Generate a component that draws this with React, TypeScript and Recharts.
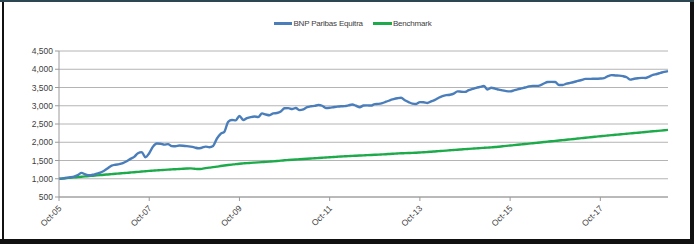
import React from "react";
import { LineChart, Line, XAxis, YAxis, CartesianGrid, Legend } from "recharts";

const MONTHS = ["Jan", "Feb", "Mar", "Apr", "May", "Jun", "Jul", "Aug", "Sep", "Oct", "Nov", "Dec"];
const START_MONTH = 9; // Oct
const START_YEAR = 2005;

const bnpParibasEquitra = [
  1000, 1010, 1025, 1040, 1060, 1100, 1160, 1120, 1095, 1110,
  1140, 1170, 1220, 1290, 1360, 1385, 1400, 1430, 1480, 1545,
  1600, 1700, 1730, 1590, 1700, 1880, 1965, 1960, 1935, 1950,
  1895, 1890, 1910, 1905, 1895, 1880, 1860, 1835, 1850, 1880,
  1865, 1900, 2100, 2230, 2290, 2560, 2610, 2600, 2720, 2610,
  2660, 2690, 2705, 2690, 2790, 2760, 2740, 2790, 2800, 2840,
  2930, 2935, 2910, 2940, 2880, 2900, 2960, 2985, 2995, 3020,
  3000, 2940, 2945, 2960, 2975, 2985, 2990, 3010, 3035, 3000,
  2960, 3005, 3010, 3005, 3045, 3050, 3070, 3110, 3150, 3180,
  3205, 3220, 3150, 3100, 3060, 3050, 3100, 3095, 3075, 3120,
  3160, 3220, 3265, 3290, 3300, 3330, 3395, 3385, 3380, 3430,
  3460, 3490, 3515, 3540, 3445, 3495, 3470, 3440, 3420, 3400,
  3395, 3420, 3450, 3475, 3500, 3530, 3545, 3545, 3560, 3610,
  3650, 3655, 3650, 3570, 3570, 3605, 3625, 3650, 3680, 3705,
  3735, 3735, 3740, 3740, 3745, 3755, 3810, 3840, 3830, 3825,
  3810, 3780, 3715, 3740, 3755, 3765, 3760, 3800, 3845, 3870,
  3900, 3930, 3950,
];

const benchmark = [
  1000, 1008, 1019, 1027, 1038, 1046, 1055, 1064, 1072, 1083,
  1091, 1100, 1110, 1118, 1127, 1136, 1144, 1153, 1162, 1171,
  1180, 1188, 1197, 1206, 1215, 1222, 1230, 1236, 1243, 1250,
  1256, 1262, 1268, 1275, 1280, 1283, 1275, 1266, 1272, 1290,
  1305, 1318, 1332, 1348, 1362, 1375, 1388, 1401, 1412, 1420,
  1428, 1435, 1442, 1449, 1456, 1463, 1470, 1477, 1486, 1496,
  1505, 1512, 1519, 1526, 1533, 1540, 1547, 1554, 1561, 1568,
  1575, 1582, 1590, 1596, 1603, 1610, 1615, 1620, 1626, 1631,
  1636, 1641, 1646, 1651, 1656, 1661, 1667, 1673, 1680, 1686,
  1692, 1697, 1701, 1705, 1709, 1714, 1720, 1726, 1733, 1740,
  1748, 1756, 1764, 1772, 1780, 1788, 1796, 1803, 1811, 1818,
  1825, 1832, 1840, 1847, 1854, 1861, 1868, 1878, 1889, 1900,
  1910, 1920, 1930, 1941, 1952, 1962, 1973, 1984, 1995, 2005,
  2016, 2027, 2037, 2048, 2058, 2069, 2079, 2090, 2101, 2112,
  2123, 2134, 2145, 2155, 2166, 2175, 2185, 2195, 2204, 2214,
  2223, 2233, 2243, 2252, 2262, 2271, 2280, 2290, 2300, 2309,
  2318, 2328, 2338,
];

const yTicks = [500, 1000, 1500, 2000, 2500, 3000, 3500, 4000, 4500];

const monthLabel = (i: number) => {
  const m = (START_MONTH + i) % 12;
  const y = START_YEAR + Math.floor((START_MONTH + i) / 12);
  return `${MONTHS[m]}-${String(y % 100).padStart(2, "0")}`;
};

const data = bnpParibasEquitra.map((v, i) => ({
  month: monthLabel(i),
  bnp: v,
  bench: benchmark[i],
}));

const BLUE = "#4a7ebb";
const GREEN = "#1daa4a";
const FONT = "'Liberation Sans', Arial, sans-serif";

const XTick = (props: any) => {
  const { x, y, payload } = props;
  return (
    <text
      x={x + 3}
      y={y + 6}
      transform={`rotate(-45 ${x + 3} ${y + 6})`}
      textAnchor="end"
      fontSize={8.5}
      fill="#404040"
      fontFamily={FONT}
    >
      {payload.value}
    </text>
  );
};

const LegendContent = () => (
  <div
    style={{
      display: "flex",
      justifyContent: "center",
      alignItems: "center",
      fontFamily: FONT,
      fontSize: 8,
      color: "#404040",
      paddingLeft: 12,
    }}
  >
    <span style={{ display: "inline-block", width: 18, height: 2.5, background: BLUE, marginRight: 1 }} />
    <span style={{ marginRight: 10, letterSpacing: -0.2 }}>BNP Paribas Equitra</span>
    <span style={{ display: "inline-block", width: 19, height: 2.5, background: GREEN, marginRight: 1 }} />
    <span style={{ letterSpacing: -0.2 }}>Benchmark</span>
  </div>
);

export default function App() {
  return (
    <div style={{ position: "absolute", left: 0, top: 0, width: 694, height: 244, background: "#fff", overflow: "hidden" }}>
      <LineChart
        width={694}
        height={244}
        data={data}
        margin={{ top: 42, right: 26, left: 9, bottom: 7 }}
      >
        <CartesianGrid vertical={false} stroke="#b4b4b4" strokeWidth={1} />
        <XAxis
          dataKey="month"
          interval={23}
          tick={<XTick />}
          tickLine={{ stroke: "#9a9a9a" }}
          tickSize={4}
          axisLine={{ stroke: "#9a9a9a" }}
          height={40}
          padding={{ left: 0, right: 0 }}
        />
        <YAxis
          domain={[500, 4500]}
          ticks={yTicks}
          interval={0}
          width={50}
          tickFormatter={(v: number) => v.toLocaleString("en-US")}
          tick={{ fontSize: 8.5, fill: "#404040", fontFamily: FONT }}
          tickLine={{ stroke: "#9a9a9a" }}
          tickSize={4}
          axisLine={{ stroke: "#9a9a9a" }}
        />
        <Legend verticalAlign="top" wrapperStyle={{ top: 19, left: 0, width: 694 }} content={<LegendContent />} />
        <Line type="monotone" dataKey="bench" stroke={GREEN} strokeWidth={2.4} dot={false} isAnimationActive={false} />
        <Line type="monotone" dataKey="bnp" stroke={BLUE} strokeWidth={2.4} dot={false} isAnimationActive={false} />
      </LineChart>
      <div style={{ position: "absolute", left: 0, top: 0, width: 694, height: 2, background: "#2c4652" }} />
      <div style={{ position: "absolute", left: 2, top: 2, width: 2, height: 242, background: "#111" }} />
      <div style={{ position: "absolute", left: 690, top: 2, width: 4, height: 242, background: "#111" }} />
      <div style={{ position: "absolute", left: 0, top: 239, width: 694, height: 5, background: "#111" }} />
    </div>
  );
}
